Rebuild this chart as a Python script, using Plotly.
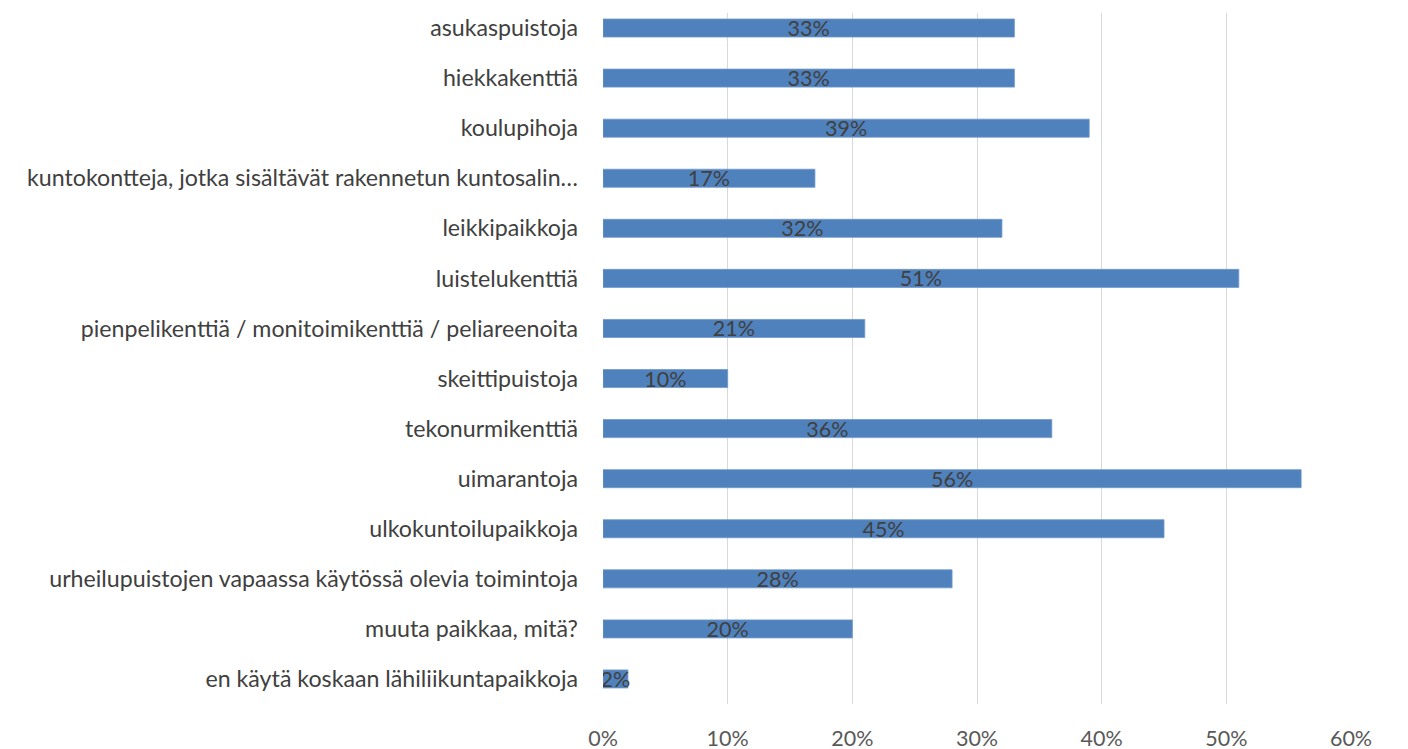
import plotly.graph_objects as go

categories = [
    "asukaspuistoja",
    "hiekkakenttiä",
    "koulupihoja",
    "kuntokontteja, jotka sisältävät rakennetun kuntosalin…",
    "leikkipaikkoja",
    "luistelukenttiä",
    "pienpelikenttiä / monitoimikenttiä / peliareenoita",
    "skeittipuistoja",
    "tekonurmikenttiä",
    "uimarantoja",
    "ulkokuntoilupaikkoja",
    "urheilupuistojen vapaassa käytössä olevia toimintoja",
    "muuta paikkaa, mitä?",
    "en käytä koskaan lähiliikuntapaikkoja",
]
values = [0.33, 0.33, 0.39, 0.17, 0.32, 0.51, 0.21, 0.10, 0.36, 0.56, 0.45, 0.28, 0.20, 0.02]
x_ticks = [0, 0.1, 0.2, 0.3, 0.4, 0.5, 0.6]
x_tick_labels = ["0%", "10%", "20%", "30%", "40%", "50%", "60%"]

FONT = "Lato, Carlito, Calibri, sans-serif"

fig = go.Figure(
    go.Bar(
        y=categories,
        x=values,
        orientation="h",
        width=0.36,
        marker=dict(color="#4F81BD", line=dict(color="#6E98CC", width=0.8)),
        text=[f"{round(v * 100)}%" for v in values],
        textposition="inside",
        insidetextanchor="middle",
        constraintext="none",
        textangle=0,
        textfont=dict(family=FONT, size=21.5, color="#404040"),
        hoverinfo="skip",
    )
)

fig.update_layout(
    width=1408,
    height=749,
    paper_bgcolor="white",
    plot_bgcolor="white",
    margin=dict(l=595, r=65, t=5, b=53),
    showlegend=False,
    font=dict(family=FONT, size=21.5, color="#595959"),
    xaxis=dict(
        range=[0, 0.6],
        tickvals=x_ticks,
        ticktext=x_tick_labels,
        showgrid=True,
        gridcolor="#D9D9D9",
        gridwidth=1.3,
        zeroline=False,
        showline=False,
        ticks="",
        ticklabelstandoff=19,
        tickfont=dict(family=FONT, size=21.5, color="#595959"),
        fixedrange=True,
    ),
    yaxis=dict(
        categoryorder="array",
        categoryarray=categories,
        range=[13.5, -0.3],
        showgrid=False,
        zeroline=False,
        showline=False,
        ticks="",
        ticklabelstandoff=24,
        tickfont=dict(family=FONT, size=23.2, color="#404040"),
        fixedrange=True,
    ),
)

fig.write_html("out.html")
